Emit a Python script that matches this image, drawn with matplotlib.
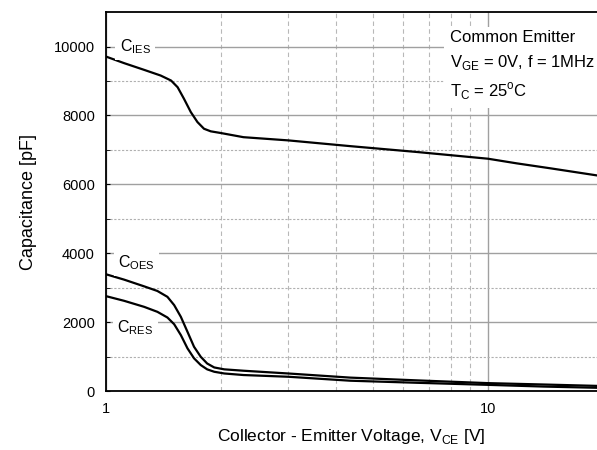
import matplotlib.pyplot as plt
from matplotlib.ticker import FixedLocator, NullFormatter

plt.rcParams['font.family'] = ['Liberation Sans', 'DejaVu Sans']
plt.rcParams['mathtext.fontset'] = 'custom'
plt.rcParams['mathtext.rm'] = 'Liberation Sans'

# collector-emitter voltage [V] and capacitance [pF]
vce_ies = [1.0, 1.115, 1.258, 1.39, 1.48, 1.54, 1.60, 1.667, 1.735, 1.805, 1.88,
           2.0, 2.29, 3.0, 4.36, 6.52, 10.0, 11.9, 14.6, 19.3]
cies = [9710, 9520, 9325, 9160, 9015, 8820, 8485, 8100, 7810, 7615, 7540,
        7490, 7370, 7277, 7110, 6940, 6745, 6610, 6465, 6260]

vce_oes = [1.0, 1.115, 1.258, 1.363, 1.448, 1.508, 1.57, 1.634, 1.70, 1.77, 1.84,
           1.92, 2.04, 2.29, 3.0, 4.36, 6.52, 10.0, 14.0, 19.3]
coes = [3390, 3235, 3040, 2905, 2735, 2495, 2155, 1720, 1285, 995, 800,
        685, 630, 590, 510, 390, 310, 230, 190, 150]

vce_res = [1.0, 1.115, 1.258, 1.363, 1.448, 1.508, 1.57, 1.634, 1.70, 1.77, 1.84,
           1.92, 2.04, 2.29, 3.0, 4.36, 6.52, 10.0, 14.0, 19.3]
cres = [2755, 2620, 2445, 2300, 2135, 1940, 1625, 1240, 950, 755, 630,
        560, 510, 465, 415, 300, 240, 180, 130, 95]

fig = plt.figure(figsize=(5.97, 4.5), dpi=100)
ax = fig.add_axes([0.1776, 0.131, 0.8224, 0.842])

ax.set_xscale('log')
ax.set_xlim(1, 19.3)
ax.set_ylim(0, 11000)

ax.plot(vce_ies, cies, color='black', lw=1.6, zorder=3)
ax.plot(vce_oes, coes, color='black', lw=1.6, zorder=3)
ax.plot(vce_res, cres, color='black', lw=1.6, zorder=3)

# grid
ax.yaxis.set_major_locator(FixedLocator([0, 2000, 4000, 6000, 8000, 10000]))
ax.yaxis.set_minor_locator(FixedLocator([1000, 3000, 5000, 7000, 9000]))
ax.xaxis.set_major_locator(FixedLocator([1, 10]))
ax.xaxis.set_minor_locator(FixedLocator([2, 3, 4, 5, 6, 7, 8, 9]))
ax.xaxis.set_minor_formatter(NullFormatter())
ax.set_xticklabels(['1', '10'])
ax.grid(True, which='major', axis='y', color='#a0a0a0', lw=1.0)
ax.grid(True, which='minor', axis='y', color='#b0b0b0', lw=0.8, ls=(0, (2, 1.5)))
ax.grid(True, which='major', axis='x', color='#a0a0a0', lw=1.0)
ax.grid(True, which='minor', axis='x', color='#b8b8b8', lw=0.8, ls=(0, (4, 3)))

ax.tick_params(axis='y', which='both', direction='in', length=3, labelsize=10.5, pad=8)
ax.tick_params(axis='x', which='both', length=0, labelsize=10.5, pad=8)

for s in ['top', 'left', 'bottom']:
    ax.spines[s].set_linewidth(1.3)
ax.spines['right'].set_visible(False)

ax.set_xlabel('Collector - Emitter Voltage, V$_{\\rm CE}$ [V]', fontsize=12.5, labelpad=8)
ax.set_ylabel('Capacitance [pF]', fontsize=13, labelpad=12)

box = dict(facecolor='white', edgecolor='none', pad=3)
ax.text(1.085, 10000, 'C$_{\\rm IES}$', fontsize=11.5, va='center', ha='left', bbox=box, zorder=4)
ax.text(1.075, 3740, 'C$_{\\rm OES}$', fontsize=11.5, va='center', ha='left', bbox=box, zorder=4)
ax.text(1.07, 1830, 'C$_{\\rm RES}$', fontsize=11.5, va='center', ha='left', bbox=box, zorder=4)

ax.text(0.70, 0.953, 'Common Emitter\nV$_{\\rm GE}$ = 0V, f = 1MHz\nT$_{\\rm C}$ = 25$^{\\rm o}$C',
        transform=ax.transAxes, fontsize=12, va='top', ha='left', linespacing=1.55,
        bbox=dict(facecolor='white', edgecolor='none', pad=4), zorder=4)

fig.savefig('out.png', dpi=100)
